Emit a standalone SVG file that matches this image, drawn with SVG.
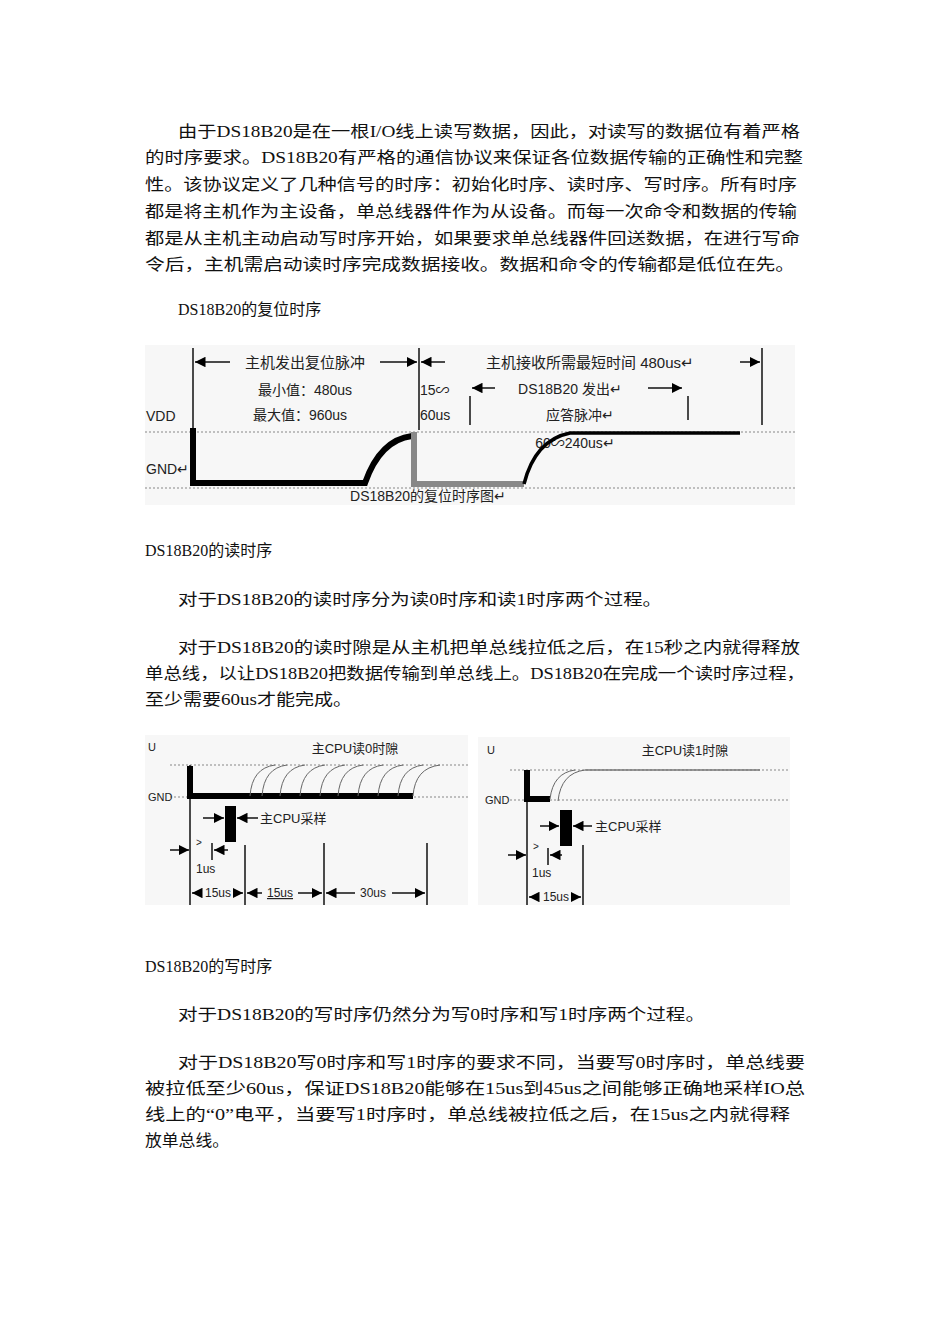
<svg xmlns="http://www.w3.org/2000/svg" width="950" height="1344" viewBox="0 0 950 1344">
<style>
.t{font-family:"Liberation Serif","Noto Sans CJK SC",serif;font-size:16px;fill:#111}
.d{font-family:"Liberation Sans","Noto Sans CJK SC",sans-serif;fill:#222}
.ln{stroke:#111;stroke-width:1.5;fill:none}
.dot{stroke:#888;stroke-width:1.2;stroke-dasharray:2 2;fill:none}
.sig{stroke:#000;stroke-width:6;fill:none}
.arc{stroke:#666;stroke-width:1;fill:none}
</style>
<defs>
<marker id="a" viewBox="0 0 10 10" refX="10" refY="5" markerWidth="7" markerHeight="7" orient="auto-start-reverse"><path d="M0,0L10,5L0,10z" fill="#000"/></marker>
</defs>
<rect width="950" height="1344" fill="#fff"/>
<g id="text">
<text class="t" x="178" y="137" textLength="622" lengthAdjust="spacingAndGlyphs">由于DS18B20是在一根I/O线上读写数据，因此，对读写的数据位有着严格</text>
<text class="t" x="145" y="163" textLength="658" lengthAdjust="spacingAndGlyphs">的时序要求。DS18B20有严格的通信协议来保证各位数据传输的正确性和完整</text>
<text class="t" x="145" y="190" textLength="652" lengthAdjust="spacingAndGlyphs">性。该协议定义了几种信号的时序：初始化时序、读时序、写时序。所有时序</text>
<text class="t" x="145" y="217" textLength="652" lengthAdjust="spacingAndGlyphs">都是将主机作为主设备，单总线器件作为从设备。而每一次命令和数据的传输</text>
<text class="t" x="145" y="244" textLength="655" lengthAdjust="spacingAndGlyphs">都是从主机主动启动写时序开始，如果要求单总线器件回送数据，在进行写命</text>
<text class="t" x="145" y="270" textLength="650" lengthAdjust="spacingAndGlyphs">令后，主机需启动读时序完成数据接收。数据和命令的传输都是低位在先。</text>
<text class="t" x="178" y="315">DS18B20的复位时序</text>
<text class="t" x="145" y="556">DS18B20的读时序</text>
<text class="t" x="178" y="605" textLength="484" lengthAdjust="spacingAndGlyphs">对于DS18B20的读时序分为读0时序和读1时序两个过程。</text>
<text class="t" x="178" y="653" textLength="622" lengthAdjust="spacingAndGlyphs">对于DS18B20的读时隙是从主机把单总线拉低之后，在15秒之内就得释放</text>
<text class="t" x="145" y="679" textLength="660" lengthAdjust="spacingAndGlyphs">单总线，以让DS18B20把数据传输到单总线上。DS18B20在完成一个读时序过程，</text>
<text class="t" x="145" y="705" textLength="207" lengthAdjust="spacingAndGlyphs">至少需要60us才能完成。</text>
<text class="t" x="145" y="972">DS18B20的写时序</text>
<text class="t" x="178" y="1020" textLength="527" lengthAdjust="spacingAndGlyphs">对于DS18B20的写时序仍然分为写0时序和写1时序两个过程。</text>
<text class="t" x="178" y="1068" textLength="627" lengthAdjust="spacingAndGlyphs">对于DS18B20写0时序和写1时序的要求不同，当要写0时序时，单总线要</text>
<text class="t" x="145" y="1094" textLength="660" lengthAdjust="spacingAndGlyphs">被拉低至少60us，保证DS18B20能够在15us到45us之间能够正确地采样IO总</text>
<text class="t" x="145" y="1120" textLength="645" lengthAdjust="spacingAndGlyphs">线上的“0”电平，当要写1时序时，单总线被拉低之后，在15us之内就得释</text>
<text class="t" x="145" y="1146" textLength="84" lengthAdjust="spacingAndGlyphs">放单总线。</text>
</g>
<g id="reset">
<rect x="145" y="345" width="650" height="160" fill="#f7f7f7"/>
<line class="dot" x1="145" y1="432" x2="795" y2="432"/>
<line class="dot" x1="145" y1="488" x2="795" y2="488"/>
<line class="ln" x1="193" y1="348" x2="193" y2="428"/>
<line class="ln" x1="419" y1="348" x2="419" y2="430"/>
<line class="ln" x1="762" y1="348" x2="762" y2="425"/>
<line class="ln" x1="470" y1="396" x2="470" y2="425"/>
<line class="ln" x1="688" y1="396" x2="688" y2="420"/>
<line class="ln" x1="195" y1="362" x2="230" y2="362" marker-start="url(#a)"/>
<line class="ln" x1="380" y1="362" x2="417" y2="362" marker-end="url(#a)"/>
<line class="ln" x1="421" y1="362" x2="445" y2="362" marker-start="url(#a)"/>
<line class="ln" x1="740" y1="362" x2="760" y2="362" marker-end="url(#a)"/>
<line class="ln" x1="472" y1="388" x2="495" y2="388" marker-start="url(#a)"/>
<line class="ln" x1="648" y1="388" x2="682" y2="388" marker-end="url(#a)"/>
<text class="d" x="305" y="368" font-size="15" text-anchor="middle">主机发出复位脉冲</text>
<text class="d" x="590" y="368" font-size="15" text-anchor="middle">主机接收所需最短时间 480us↵</text>
<text class="d" x="305" y="395" font-size="14" text-anchor="middle">最小值：480us</text>
<text class="d" x="300" y="420" font-size="14" text-anchor="middle">最大值：960us</text>
<text class="d" x="420" y="395" font-size="14">15∽</text>
<text class="d" x="420" y="420" font-size="14">60us</text>
<text class="d" x="570" y="394" font-size="14" text-anchor="middle">DS18B20 发出↵</text>
<text class="d" x="580" y="420" font-size="14" text-anchor="middle">应答脉冲↵</text>
<text class="d" x="146" y="421" font-size="14">VDD</text>
<text class="d" x="146" y="474" font-size="14">GND↵</text>
<text class="d" x="575" y="448" font-size="14" text-anchor="middle">60∽240us↵</text>
<text class="d" x="428" y="501" font-size="14" text-anchor="middle">DS18B20的复位时序图↵</text>
<path class="sig" d="M193,428V483H365Q380,440 412,436"/>
<path d="M414,432V484H524" stroke="#888" stroke-width="6" fill="none"/>
<path d="M524,484Q535,440 570,433H740" stroke="#000" stroke-width="3.5" fill="none"/>
</g>
<g id="read0">
<rect x="145" y="735" width="323" height="170" fill="#f7f7f7"/>
<line class="dot" x1="170" y1="765" x2="468" y2="765"/>
<line class="dot" x1="170" y1="797" x2="468" y2="797"/>
<text class="d" x="148" y="751" font-size="11">U</text>
<text class="d" x="148" y="801" font-size="11">GND</text>
<text class="d" x="355" y="753" font-size="13" text-anchor="middle">主CPU读0时隙</text>
<line class="ln" x1="190" y1="765" x2="190" y2="905"/>
<path class="sig" d="M190,766V796H413" stroke-width="4"/>
<path class="arc" d="M250,796Q252,768 275,765M262,796Q264,768 287,765M280,796Q282,768 305,765M300,796Q302,768 325,765M320,796Q322,768 345,765M338,796Q340,768 363,765M358,796Q360,768 383,765M378,796Q380,768 403,765M398,796Q400,768 423,765M413,796Q415,768 440,765"/>
<rect x="225" y="806" width="11" height="36" fill="#000"/>
<line class="ln" x1="203" y1="818" x2="224" y2="818" marker-end="url(#a)"/>
<line class="ln" x1="258" y1="818" x2="237" y2="818" marker-end="url(#a)"/>
<text class="d" x="260" y="823" font-size="13">主CPU采样</text>
<line class="ln" x1="170" y1="850" x2="189" y2="850" marker-end="url(#a)"/>
<line class="ln" x1="228" y1="850" x2="214" y2="850" marker-end="url(#a)"/>
<line class="ln" x1="212" y1="843" x2="212" y2="860"/>
<text class="d" x="196" y="846" font-size="10">&gt;</text>
<text class="d" x="196" y="873" font-size="12">1us</text>
<line class="ln" x1="245" y1="845" x2="245" y2="905"/>
<line class="ln" x1="324" y1="843" x2="324" y2="905"/>
<line class="ln" x1="427" y1="843" x2="427" y2="905"/>
<line class="ln" x1="192" y1="893" x2="202" y2="893" marker-start="url(#a)"/>
<line class="ln" x1="234" y1="893" x2="243" y2="893" marker-end="url(#a)"/>
<text class="d" x="218" y="897" font-size="12" text-anchor="middle">15us</text>
<line class="ln" x1="247" y1="893" x2="262" y2="893" marker-start="url(#a)"/>
<line class="ln" x1="298" y1="893" x2="322" y2="893" marker-end="url(#a)"/>
<text class="d" x="280" y="897" font-size="12" text-anchor="middle" text-decoration="underline">15us</text>
<line class="ln" x1="326" y1="893" x2="355" y2="893" marker-start="url(#a)"/>
<line class="ln" x1="392" y1="893" x2="425" y2="893" marker-end="url(#a)"/>
<text class="d" x="373" y="897" font-size="12" text-anchor="middle">30us</text>
</g>
<g id="read1">
<rect x="478" y="737" width="312" height="168" fill="#f7f7f7"/>
<line class="dot" x1="510" y1="770" x2="790" y2="770"/>
<line class="dot" x1="510" y1="800" x2="790" y2="800"/>
<text class="d" x="487" y="754" font-size="11">U</text>
<text class="d" x="485" y="804" font-size="11">GND</text>
<text class="d" x="685" y="755" font-size="13" text-anchor="middle">主CPU读1时隙</text>
<line class="ln" x1="527" y1="770" x2="527" y2="905"/>
<path class="sig" d="M527,770V799H550" stroke-width="4"/>
<path class="arc" d="M550,799Q553,773 575,770M558,801Q561,773 585,770"/>
<line x1="585" y1="770" x2="760" y2="770" stroke="#777" stroke-width="1.5"/>
<rect x="560" y="810" width="12" height="36" fill="#000"/>
<line class="ln" x1="540" y1="826" x2="559" y2="826" marker-end="url(#a)"/>
<line class="ln" x1="592" y1="826" x2="573" y2="826" marker-end="url(#a)"/>
<text class="d" x="595" y="831" font-size="13">主CPU采样</text>
<line class="ln" x1="508" y1="855" x2="526" y2="855" marker-end="url(#a)"/>
<line class="ln" x1="562" y1="855" x2="550" y2="855" marker-end="url(#a)"/>
<line class="ln" x1="548" y1="848" x2="548" y2="865"/>
<text class="d" x="533" y="850" font-size="10">&gt;</text>
<text class="d" x="532" y="877" font-size="12">1us</text>
<line class="ln" x1="583" y1="845" x2="583" y2="905"/>
<line class="ln" x1="529" y1="897" x2="539" y2="897" marker-start="url(#a)"/>
<line class="ln" x1="572" y1="897" x2="581" y2="897" marker-end="url(#a)"/>
<text class="d" x="556" y="901" font-size="12" text-anchor="middle">15us</text>
</g>
</svg>
